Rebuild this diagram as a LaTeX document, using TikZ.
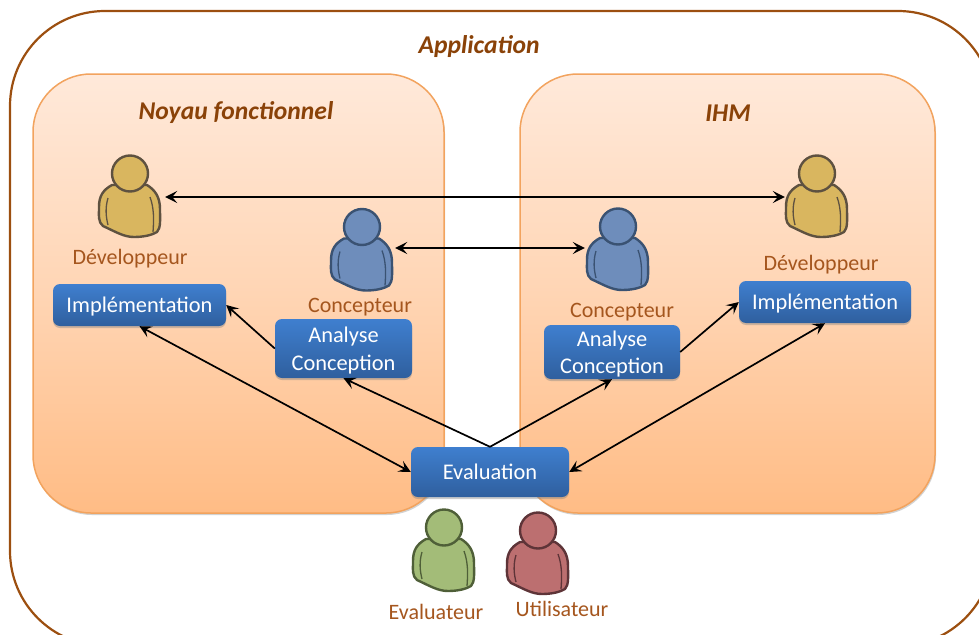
\documentclass[tikz,border=0pt]{standalone}
\usepackage{fontspec}
\setmainfont{Carlito}
\usetikzlibrary{shadows,arrows.meta}
\definecolor{titre}{HTML}{8A4208}
\definecolor{contour}{HTML}{9C4F10}
\definecolor{etiquette}{HTML}{A5561E}
\definecolor{cadre}{HTML}{F2A35E}
\definecolor{panneauhaut}{HTML}{FFE9DA}
\definecolor{panneaumilieu}{HTML}{FFD5B4}
\definecolor{panneaubas}{HTML}{FFBC85}
\definecolor{bleuhaut}{HTML}{3F7FCF}
\definecolor{bleubas}{HTML}{2F5F9E}
\definecolor{ocre}{HTML}{D9B65F}
\definecolor{ocretrait}{HTML}{5E5140}
\definecolor{bleupers}{HTML}{6E8DBB}
\definecolor{bleutrait}{HTML}{3A5272}
\definecolor{vert}{HTML}{A3BC78}
\definecolor{verttrait}{HTML}{4F5F38}
\definecolor{rouge}{HTML}{BC6F70}
\definecolor{rougetrait}{HTML}{5E3438}
\tikzset{
  panneau/.style={draw=cadre, line width=1.5pt, rounded corners=58pt, top color=panneauhaut, bottom color=panneaubas, middle color=panneaumilieu, drop shadow={shadow xshift=1pt,shadow yshift=-2pt,fill=black!35,opacity=0.5}},
  tache/.style={rounded corners=7pt, top color=bleuhaut, bottom color=bleubas, text=white, font=\fontsize{22.4}{27.5}\selectfont, align=center, inner sep=0pt, text depth=0pt, drop shadow={shadow xshift=0pt,shadow yshift=-2pt,fill=black!50,opacity=0.4}},
  fleche/.style={-{Stealth[length=12pt,width=12pt,inset=5pt]}, line width=1.7pt},
  double/.style={{Stealth[length=12pt,width=12pt,inset=5pt]}-{Stealth[length=12pt,width=12pt,inset=5pt]}, line width=1.7pt},
  etiq/.style={text=etiquette, font=\fontsize{22}{26}\selectfont},
  titreb/.style={text=titre, font=\fontsize{25.6}{30}\selectfont\bfseries\itshape},
  place/.style={inner sep=0pt, minimum width=62pt, minimum height=84pt},
  pics/personne/.style 2 args={code={
    % corps
    \draw[draw=#2, line width=2.4pt, fill=#1, line join=round]
      (-18,-14) .. controls (-27,-9) and (-31,-3) .. (-31,8)
      .. controls (-31,17) and (-32,23) .. (-27,27)
      .. controls (-14,33) and (-6,38) .. (4,38)
      .. controls (14,38) and (22,36) .. (27,33)
      .. controls (31,29) and (30,20) .. (30,10)
      .. controls (30,-2) and (25,-9) .. (17,-14) -- cycle;
    \draw[draw=#2, line width=1.3pt] (-22,-1) .. controls (-25,9) and (-24,18) .. (-22,26);
    \draw[draw=#2, line width=1.3pt] (20,-2) .. controls (24,9) and (24,20) .. (23,33);
    % tete
    \draw[draw=#2, line width=2.4pt, fill=#1] (0,-25.5) circle (18);
  }}
}
\begin{document}
\begin{tikzpicture}[x=1pt,y=-1pt]
\useasboundingbox (0,0) rectangle (979,634);
\clip (0,0) rectangle (979,634);

% Cadre de l'application
\draw[draw=contour, line width=2.2pt, rounded corners=95pt] (10,646) -- (10,11) -- (993,11) -- (993,646) -- cycle;
\node[titreb] (application) at (479,47) {Application};

% Panneaux
\node[panneau, minimum width=411pt, minimum height=439pt] (noyau) at (238.5,293.5) {};
\node[panneau, minimum width=415pt, minimum height=439pt] (ihm) at (727.5,293.5) {};
\node[titreb] (tnoyau) at (236,113) {Noyau fonctionnel};
\node[titreb] (tihm) at (728,113) {IHM};

% Personnes
\pic at (130,199) {personne={ocre}{ocretrait}};
\pic at (362,252.5) {personne={bleupers}{bleutrait}};
\pic at (618,252) {personne={bleupers}{bleutrait}};
\pic at (817,199) {personne={ocre}{ocretrait}};
\pic at (444,553) {personne={vert}{verttrait}};
\pic at (538,556) {personne={rouge}{rougetrait}};

% Places des personnes pour les fleches
\node[place] (dev1) at (134,197) {};
\node[place] (dev2) at (816,197) {};
\node[place] (conc1) at (364,248) {};
\node[place] (conc2) at (616,248) {};

% Etiquettes
\node[etiq] (ldev1) at (130,259) {Développeur};
\node[etiq] (lconc1) at (360,307) {Concepteur};
\node[etiq] (lconc2) at (622,312) {Concepteur};
\node[etiq] (ldev2) at (821,265) {Développeur};
\node[etiq] (leval) at (436,612) {Evaluateur};
\node[etiq] (lutil) at (562,609) {Utilisateur};

% Taches
\node[tache, minimum width=173pt, minimum height=42pt] (impl1) at (139.5,305) {Implémentation};
\node[tache, minimum width=137pt, minimum height=59pt] (ana1) at (343.5,348.5) {Analyse\\Conception};
\node[tache, minimum width=136pt, minimum height=54pt] (ana2) at (612,352) {Analyse\\Conception};
\node[tache, minimum width=172pt, minimum height=42pt] (impl2) at (825,302) {Implémentation};
\node[tache, minimum width=158pt, minimum height=50pt] (eval) at (490,472) {Evaluation};

% Fleches
\draw[double] (dev1.east) -- (dev2.west);
\draw[double] (conc1.east) -- (conc2.west);
\draw[fleche] (ana1.west) -- (impl1.east);
\draw[fleche] (ana2.east) -- (impl2.west);
\draw[fleche] (eval.north) -- (ana1.south);
\draw[fleche] (eval.north) -- (ana2.south);
\draw[double] (impl1.south) -- (eval.west);
\draw[double] (impl2.south) -- (eval.east);

\end{tikzpicture}
\end{document}
